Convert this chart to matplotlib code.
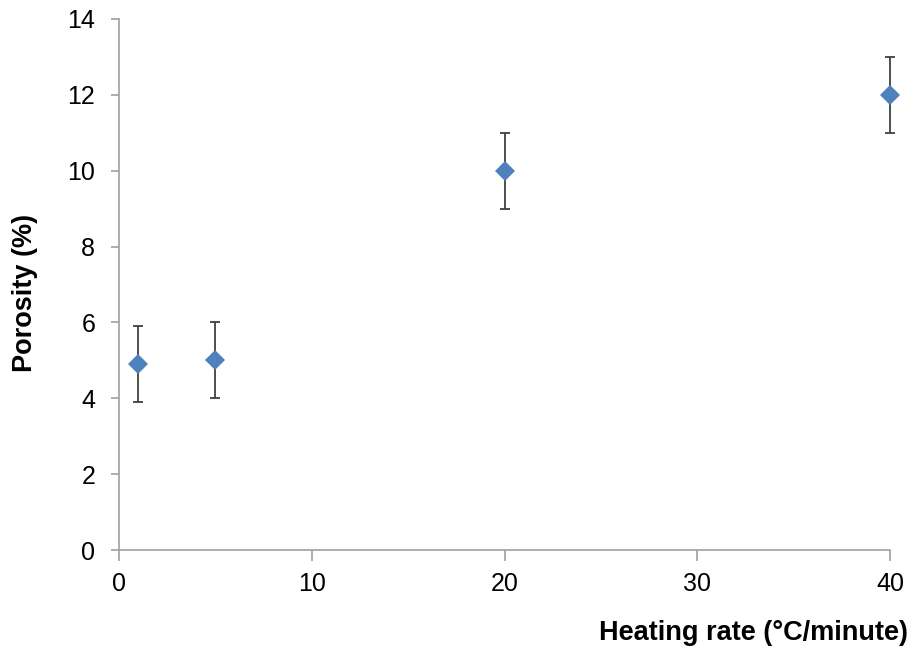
import matplotlib
matplotlib.use("Agg")
import matplotlib.pyplot as plt

# heating rate vs porosity, with +/- error
heating_rate = [1, 5, 20, 40]
porosity = [4.9, 5.0, 10.0, 12.0]
porosity_err = [1.0, 1.0, 1.0, 1.0]

plt.rcParams["font.family"] = ["Liberation Sans", "DejaVu Sans"]

fig = plt.figure(figsize=(9.11, 6.5), dpi=100)
ax = fig.add_axes([0.1306, 0.1538, 0.8464, 0.817])

line, caps, bars = ax.errorbar(
    heating_rate, porosity, yerr=porosity_err,
    fmt="D", color="#4F81BD", markersize=10.5,
    ecolor="#404040", elinewidth=1.3, capsize=3.8, capthick=1.3, zorder=3,
)
line.set_markeredgewidth(0)
# keep the last point fully visible at the right edge
for artist in [line, *caps, *bars]:
    artist.set_clip_on(False)

ax.set_xlim(0, 40)
ax.set_ylim(0, 14)
ax.set_xticks(range(0, 41, 10))
ax.set_yticks(range(0, 15, 2))

for side in ("top", "right"):
    ax.spines[side].set_visible(False)
for side in ("left", "bottom"):
    ax.spines[side].set_color("#A0A0A0")
    ax.spines[side].set_linewidth(1.2)

ax.tick_params(axis="both", direction="out", color="#A0A0A0", width=1.2,
               labelsize=18, labelcolor="black")
ax.tick_params(axis="y", length=6, pad=11)
ax.tick_params(axis="x", length=8, pad=8)

fig.text(0.0274, 0.55, "Porosity (%)", rotation=90, ha="center", va="center",
         fontsize=19.5, fontweight="bold")
fig.text(0.9967, 0.0154, "Heating rate (°C/minute)", ha="right", va="baseline",
         fontsize=19.5, fontweight="bold")

fig.savefig("out.png", dpi=100)
